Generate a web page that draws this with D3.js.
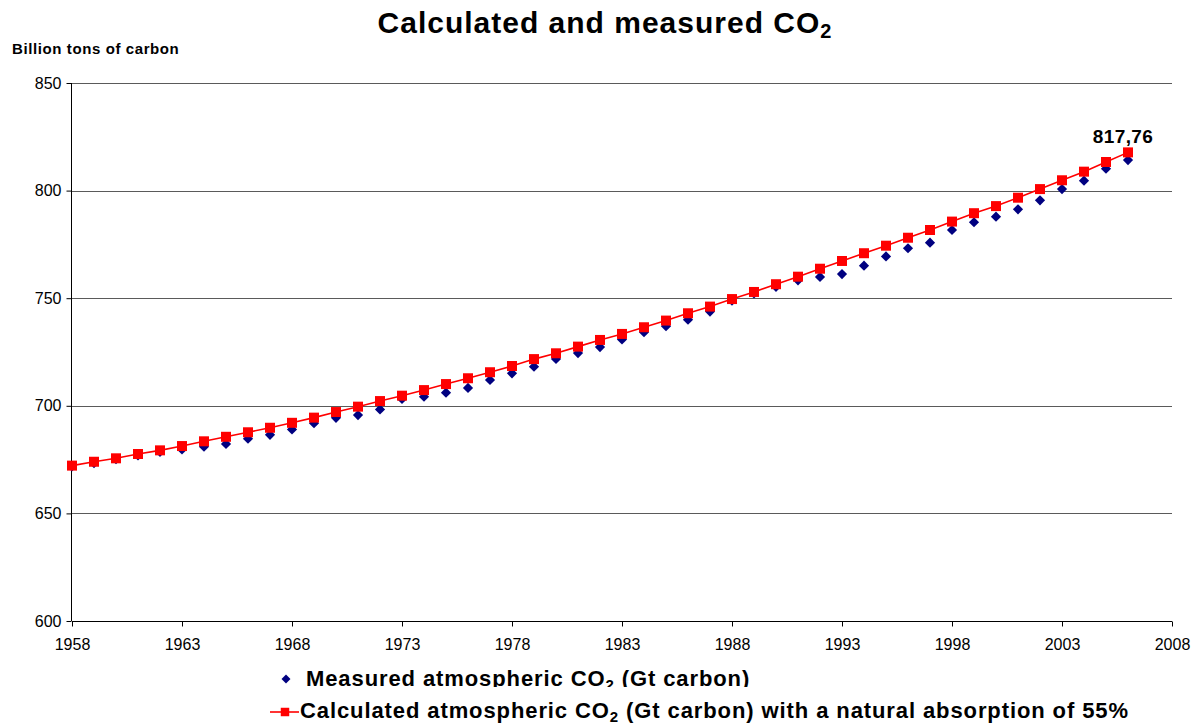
<!DOCTYPE html>
<html>
<head>
<meta charset="utf-8">
<script src="https://cdn.jsdelivr.net/npm/d3@7/dist/d3.min.js"></script>
<style>
  html, body { margin: 0; padding: 0; background: #fff; }
  svg { display: block; font-family: "Liberation Sans", Arial, sans-serif; }
</style>
</head>
<body>
<svg id="chart" width="1198" height="724"></svg>
<script>
const years = [1958,1959,1960,1961,1962,1963,1964,1965,1966,1967,1968,1969,1970,1971,1972,1973,1974,1975,1976,1977,1978,1979,1980,1981,1982,1983,1984,1985,1986,1987,1988,1989,1990,1991,1992,1993,1994,1995,1996,1997,1998,1999,2000,2001,2002,2003,2004,2005,2006];
const calculated = [672.2,674.0,675.6,677.6,679.3,681.3,683.5,685.6,687.7,689.8,692.1,694.5,697.1,699.6,702.2,704.7,707.3,710.1,712.8,715.6,718.5,721.7,724.4,727.5,730.6,733.4,736.5,739.6,743.0,746.1,749.6,752.9,756.5,760.0,763.7,767.3,770.9,774.4,778.1,781.7,785.6,789.5,792.8,796.7,800.7,804.8,808.8,813.3,817.76];
const measured = [671.8,673.4,675.2,676.9,678.6,679.7,681.0,682.3,684.7,686.5,689.0,691.9,694.4,695.7,698.3,703.2,704.2,706.1,708.3,712.0,715.1,718.2,721.8,724.5,727.3,730.8,734.2,737.0,740.0,743.8,748.9,752.2,755.3,758.3,759.9,761.2,765.1,769.4,773.2,775.8,781.7,785.3,787.9,791.3,795.5,800.7,804.6,810.2,814.2];
const xTicks = [1958,1963,1968,1973,1978,1983,1988,1993,1998,2003,2008];
const yTicks = [600,650,700,750,800,850];
const lastLabel = "817,76";

const svg = d3.select("#chart");
const pLeft = 72, pRight = 1172, pTop = 83, pBottom = 621;

const x = d3.scaleLinear().domain([1958, 2008]).range([pLeft, pRight]);
const y = d3.scaleLinear().domain([600, 850]).range([pBottom, pTop]);

// Title
const title = svg.append("text")
  .attr("x", 605).attr("y", 33)
  .attr("text-anchor", "middle")
  .attr("font-size", 30).attr("font-weight", "bold").attr("fill", "#000")
  .attr("letter-spacing", 1);
title.append("tspan").text("Calculated and measured CO");
title.append("tspan").attr("font-size", 20).attr("dy", 5).text("2");

// Y axis label
svg.append("text")
  .attr("x", 12).attr("y", 54)
  .attr("font-size", 15).attr("font-weight", "bold")
  .attr("letter-spacing", 0.6)
  .text("Billion tons of carbon");

// Gridlines
svg.append("g")
  .selectAll("line")
  .data(yTicks.filter(d => d > 600))
  .join("line")
  .attr("x1", pLeft).attr("x2", pRight)
  .attr("y1", d => Math.round(y(d)) + 0.5).attr("y2", d => Math.round(y(d)) + 0.5)
  .attr("stroke", "#5a5a5a").attr("stroke-width", 1);

// Y axis
const yAxis = d3.axisLeft(y).tickValues(yTicks).tickSize(5).tickPadding(5).tickFormat(d3.format("d"));
const gy = svg.append("g").attr("transform", `translate(${pLeft - 0.5},0)`).call(yAxis);
gy.select(".domain").attr("stroke", "#000").attr("d", `M0,${pTop}V${pBottom}`);
gy.selectAll("text").attr("font-size", 16).attr("font-family", "Liberation Sans, Arial, sans-serif").attr("fill", "#000");
gy.selectAll("line").attr("stroke", "#000");

// X axis
const xAxis = d3.axisBottom(x).tickValues(xTicks).tickSize(5).tickPadding(12).tickFormat(d3.format("d"));
const gx = svg.append("g").attr("transform", `translate(0,${pBottom + 0.5})`).call(xAxis);
gx.select(".domain").attr("stroke", "#000").attr("d", `M${pLeft},0H${pRight}`);
gx.selectAll("text").attr("font-size", 16).attr("font-family", "Liberation Sans, Arial, sans-serif").attr("fill", "#000");
gx.selectAll("line").attr("stroke", "#000");

const data = years.map((yr, i) => ({ yr, c: calculated[i], m: measured[i] }));

// Measured diamonds
const diamond = d3.symbol().type(d3.symbolSquare).size(52);
svg.append("g").selectAll("path")
  .data(data).join("path")
  .attr("d", diamond)
  .attr("transform", d => `translate(${x(d.yr)},${y(d.m)}) rotate(45)`)
  .attr("fill", "#000080");

// Calculated line
const line = d3.line().x(d => x(d.yr)).y(d => y(d.c));
svg.append("path").datum(data)
  .attr("d", line)
  .attr("fill", "none").attr("stroke", "#ff0000").attr("stroke-width", 1.6);

// Calculated squares
const square = d3.symbol().type(d3.symbolSquare).size(100);
svg.append("g").selectAll("path")
  .data(data).join("path")
  .attr("d", square)
  .attr("transform", d => `translate(${x(d.yr)},${y(d.c)})`)
  .attr("fill", "#ff0000");

// Data label on last point
const last = data[data.length - 1];
svg.append("text")
  .attr("x", x(last.yr) - 5).attr("y", y(last.c) - 9)
  .attr("text-anchor", "middle")
  .attr("font-size", 19).attr("font-weight", "bold")
  .attr("letter-spacing", 0.4)
  .text(lastLabel);

// Legend
const defs = svg.append("defs");
defs.append("clipPath").attr("id", "legclip")
  .append("rect").attr("x", 0).attr("y", 660).attr("width", 1198).attr("height", 27);

const leg = svg.append("g");
leg.append("path")
  .attr("d", d3.symbol().type(d3.symbolSquare).size(40))
  .attr("transform", "translate(286,679) rotate(45)")
  .attr("fill", "#000080");
const t1 = leg.append("text")
  .attr("x", 306).attr("y", 686)
  .attr("font-size", 22).attr("font-weight", "bold")
  .attr("letter-spacing", 0.9)
  .attr("clip-path", "url(#legclip)");
t1.append("tspan").text("Measured atmospheric CO");
t1.append("tspan").attr("font-size", 15).attr("dy", 4).text("2");
t1.append("tspan").attr("dy", -4).text(" (Gt carbon)");

leg.append("line")
  .attr("x1", 270).attr("x2", 299).attr("y1", 712).attr("y2", 712)
  .attr("stroke", "#ff0000").attr("stroke-width", 1.6);
leg.append("path")
  .attr("d", d3.symbol().type(d3.symbolSquare).size(72))
  .attr("transform", "translate(285,712)")
  .attr("fill", "#ff0000");
const t2 = leg.append("text")
  .attr("x", 300).attr("y", 718)
  .attr("font-size", 22).attr("font-weight", "bold")
  .attr("letter-spacing", 0.9);
t2.append("tspan").text("Calculated atmospheric CO");
t2.append("tspan").attr("font-size", 15).attr("dy", 4).text("2");
t2.append("tspan").attr("dy", -4).text(" (Gt carbon) with a natural absorption of 55%");
</script>
</body>
</html>
